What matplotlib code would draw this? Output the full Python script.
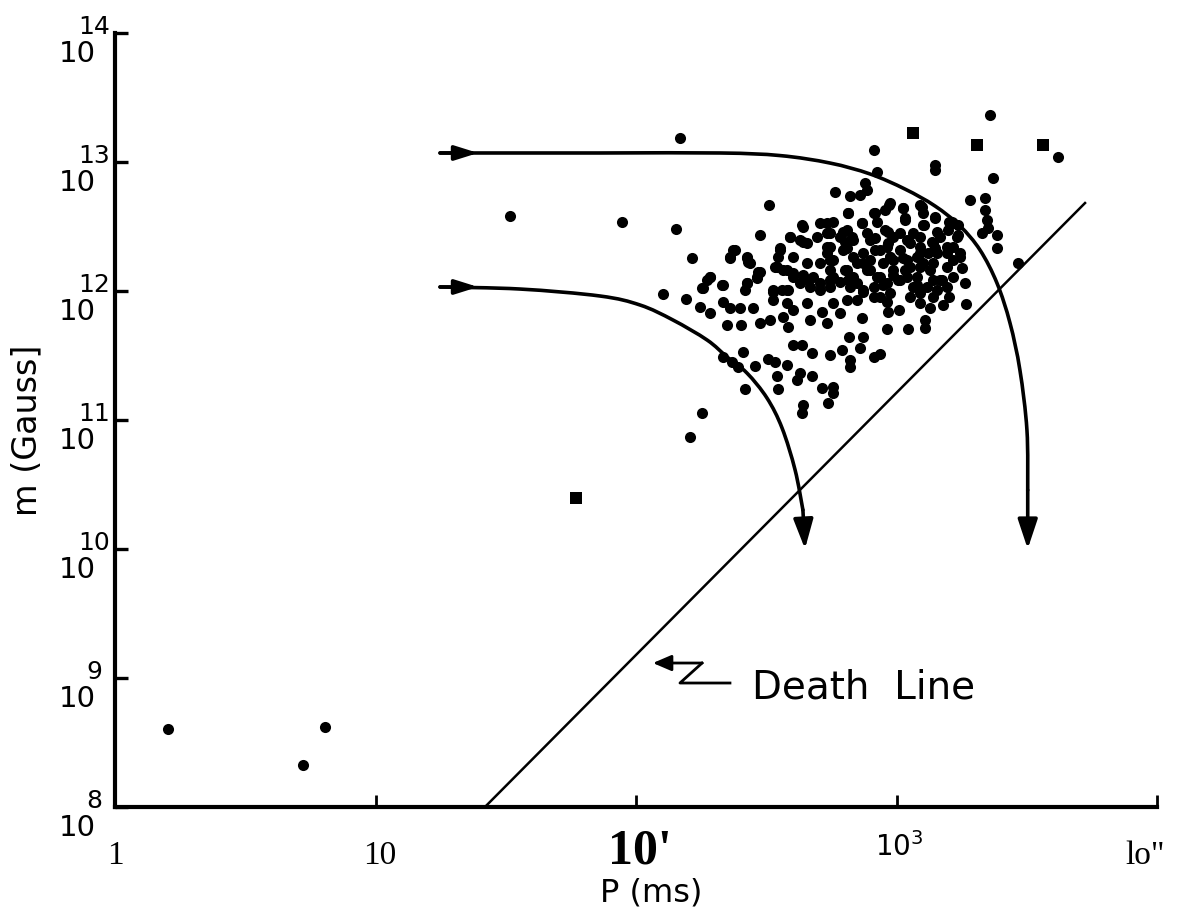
import numpy as np
import matplotlib
matplotlib.use('Agg')
import matplotlib.pyplot as plt
from matplotlib.path import Path
from matplotlib.patches import PathPatch

# all values are log10 P (ms) and log10 B (Gauss)

# scattered pulsars around the main cloud
outer_logP = [2.168, 2.911, 3.359, 3.147, 3.147, 3.371, 2.923, 2.879, 2.885, 2.859,
              2.821, 2.763, 2.511, 1.944, 2.153, 2.475, 2.213, 2.104, 2.191, 2.245,
              2.283, 2.347, 2.401, 2.251, 2.418, 2.409, 2.335, 2.367, 2.392, 2.456,
              2.507, 2.533, 2.578, 2.539, 2.546, 2.603, 2.635, 2.629, 2.674, 2.616,
              2.712, 2.757, 2.757, 2.738, 2.642, 2.635, 2.744, 2.674, 2.789, 2.818,
              2.872, 2.859, 2.821, 2.821, 2.911, 2.936, 2.964, 3.045, 3.109, 3.109,
              3.010, 3.266, 3.263, 3.250, 3.384, 3.467, 3.282, 3.339, 3.339, 3.346,
              3.327, 3.384, 3.352, 3.211, 3.237, 1.516, 3.620, 2.207]
outer_logB = [13.183, 13.093, 13.364, 12.976, 12.938, 12.873, 12.925, 12.834, 12.783, 12.744,
              12.736, 12.770, 12.666, 12.537, 12.477, 12.434, 12.258, 11.976, 11.935, 11.878,
              11.831, 11.736, 11.736, 11.056, 11.239, 11.529, 11.490, 11.451, 11.413, 11.418,
              11.469, 11.451, 11.425, 11.340, 11.237, 11.581, 11.581, 11.361, 11.340, 11.309,
              11.244, 11.257, 11.211, 11.128, 11.115, 11.051, 11.503, 11.521, 11.542, 11.645,
              11.645, 11.555, 11.464, 11.407, 11.490, 11.511, 11.702, 11.702, 11.774, 11.710,
              11.852, 11.896, 12.064, 12.175, 12.330, 12.214, 12.705, 12.718, 12.627, 12.550,
              12.446, 12.434, 12.485, 12.537, 12.511, 12.581, 13.039, 10.867]

# dense cloud, read row by row
core_logP = [2.972, 3.026, 3.096, 3.147, 3.199, 2.911, 2.923, 2.866, 2.815, 2.706,
             2.731, 2.635, 2.744, 2.808, 2.955, 2.987, 3.032, 3.103, 3.167, 3.064,
             2.591, 2.629, 2.655, 2.552, 2.744, 2.783, 2.834, 2.917, 2.968, 3.013,
             3.090, 3.141, 3.192, 3.243, 3.077, 2.379, 2.360, 2.424, 2.431, 2.731,
             2.795, 2.872, 2.936, 3.122, 2.546, 2.533, 2.578, 2.603, 2.642, 2.680,
             2.706, 2.757, 2.808, 2.847, 2.898, 2.949, 2.987, 3.032, 3.090, 3.141,
             3.192, 2.475, 2.463, 3.039, 2.283, 2.258, 2.271, 2.328, 2.424, 2.418,
             2.527, 2.559, 2.584, 2.629, 2.667, 2.706, 2.744, 2.783, 2.821, 2.872,
             2.911, 2.962, 3.013, 3.064, 3.115, 3.154, 3.199, 2.335, 2.360, 2.399,
             2.450, 2.527, 2.578, 2.603, 2.655, 2.712, 2.757, 2.808, 2.847, 2.911,
             2.962, 2.968, 3.090, 3.128, 3.179, 2.475, 2.514, 2.565, 2.584, 2.667,
             2.731, 2.783, 2.866, 2.693, 2.802, 2.885, 2.974, 3.051, 3.154, 3.218,
             2.987, 3.077, 3.167, 2.655, 2.603, 2.744, 2.834, 2.936, 2.885, 3.141,
             3.051, 3.090, 2.974, 3.218, 3.230]
core_logB = [12.666, 12.640, 12.653, 12.576, 12.537, 12.602, 12.537, 12.524, 12.602, 12.524,
             12.524, 12.511, 12.446, 12.472, 12.472, 12.421, 12.563, 12.511, 12.421, 12.446,
             12.421, 12.395, 12.369, 12.330, 12.343, 12.421, 12.395, 12.408, 12.369, 12.317,
             12.343, 12.369, 12.343, 12.291, 12.266, 12.317, 12.253, 12.266, 12.227, 12.291,
             12.317, 12.291, 12.317, 12.291, 12.266, 12.188, 12.162, 12.136, 12.123, 12.110,
             12.214, 12.240, 12.162, 12.214, 12.240, 12.214, 12.240, 12.162, 12.188, 12.214,
             12.188, 12.149, 12.110, 12.240, 12.110, 12.020, 12.085, 12.046, 12.059, 12.007,
             12.007, 12.007, 12.007, 12.059, 12.033, 12.007, 12.085, 12.072, 12.033, 12.007,
             12.033, 12.059, 12.085, 12.033, 12.033, 12.007, 11.955, 11.917, 11.865, 11.865,
             11.865, 11.930, 11.904, 11.852, 11.904, 11.839, 11.904, 11.930, 11.930, 11.955,
             11.917, 11.839, 11.904, 11.865, 11.891, 11.749, 11.774, 11.800, 11.723, 11.774,
             11.749, 11.826, 11.787, 12.421, 12.382, 12.446, 12.266, 12.369, 12.291, 12.110,
             12.123, 12.110, 12.085, 12.214, 12.266, 12.162, 12.110, 12.110, 12.162, 11.955,
             11.955, 12.007, 11.981, 12.343, 12.421]

# more of the cloud, read from close-ups of its right and left halves
dense_logP = [2.813, 2.867, 2.917, 2.955, 2.974, 2.755, 3.024, 3.032, 3.089, 3.101,
              3.147, 3.101, 3.216, 3.197, 3.235, 3.155, 3.135, 3.147, 2.966, 3.013,
              3.039, 3.089, 2.733, 2.794, 2.828, 2.898, 2.917, 2.963, 2.974, 3.024,
              3.051, 3.089, 3.101, 3.193, 3.216, 3.243, 2.733, 2.744, 2.809, 2.832,
              2.871, 2.898, 2.801, 2.813, 2.755, 2.744, 2.848, 2.871, 2.924, 2.947,
              2.986, 3.005, 3.039, 3.078, 3.128, 3.139, 3.174, 3.193, 3.089, 2.936,
              2.641, 2.591, 2.640, 2.552, 2.540, 2.563, 2.602, 2.656, 2.706, 2.372,
              2.360, 2.425, 2.437, 2.468, 2.464, 2.425, 2.283, 2.252, 2.333, 2.525,
              2.579]
dense_logB = [12.604, 12.527, 12.604, 12.628, 12.682, 12.535, 12.643, 12.550, 12.667, 12.604,
              12.566, 12.511, 12.527, 12.473, 12.434, 12.457, 12.380, 12.333, 12.457, 12.450,
              12.395, 12.418, 12.450, 12.457, 12.418, 12.395, 12.318, 12.341, 12.263, 12.256,
              12.186, 12.294, 12.217, 12.294, 12.240, 12.263, 12.341, 12.240, 12.333, 12.263,
              12.217, 12.163, 12.163, 12.085, 12.108, 12.031, 12.062, 11.992, 12.108, 12.046,
              12.163, 12.085, 12.108, 12.046, 12.163, 12.085, 12.085, 12.031, 11.984, 11.953,
              12.496, 12.418, 12.380, 12.318, 12.186, 12.163, 12.108, 12.085, 12.062, 12.318,
              12.263, 12.256, 12.217, 12.147, 12.101, 12.062, 12.108, 12.023, 12.046, 11.992,
              12.008]

# short period objects, bottom left
msp_logP = [0.203, 0.721, 0.805]
msp_logB = [8.603, 8.324, 8.619]

# square symbols
sq_logP = [3.062, 3.308, 3.563, 1.769]
sq_logB = [13.225, 13.131, 13.131, 10.394]

# evolutionary tracks
track_hi_logP = [1.247, 1.861, 2.322, 2.552, 2.744, 2.898, 3.032, 3.147, 3.243,
                 3.320, 3.385, 3.435, 3.473, 3.500, 3.503, 3.503]
track_hi_logB = [13.070, 13.070, 13.070, 13.050, 12.992, 12.907, 12.790, 12.659, 12.504,
                 12.317, 12.061, 11.751, 11.387, 10.922, 10.456, 10.000]
track_lo_logP = [1.247, 1.554, 1.861, 2.015, 2.141, 2.272, 2.349, 2.425, 2.502,
                 2.560, 2.610, 2.640, 2.648]
track_lo_logB = [12.031, 12.015, 11.961, 11.891, 11.775, 11.620, 11.488, 11.364, 11.170,
                 10.937, 10.612, 10.302, 10.000]

death_logP = [1.42, 3.723]
death_logB = [8.0, 12.682]

ytick_exp = [8, 9, 10, 11, 12, 13, 14]
xtick_vals = [1, 10, 100, 1000, 10000]
xtick_text = ['1', '10', "10'", '$10^3$', 'lo"']


def p(v):
    return 10 ** np.asarray(v)


def smooth_path(lx, ly):
    # cubic pieces through the read points (Catmull-Rom in log space)
    x = np.asarray(lx, float)
    y = np.asarray(ly, float)
    n = len(x)
    verts = [(x[0], y[0])]
    codes = [Path.MOVETO]
    for i in range(n - 1):
        a = max(i - 1, 0)
        b = min(i + 2, n - 1)
        c1 = (x[i] + (x[i + 1] - x[a]) / 6, y[i] + (y[i + 1] - y[a]) / 6)
        c2 = (x[i + 1] - (x[b] - x[i]) / 6, y[i + 1] - (y[b] - y[i]) / 6)
        verts += [c1, c2, (x[i + 1], y[i + 1])]
        codes += [Path.CURVE4] * 3
    return Path(10 ** np.array(verts), codes)


fig = plt.figure(figsize=(11.79, 9.13), dpi=100)
ax = fig.add_axes([0.0977, 0.1163, 0.8838, 0.8475])
ax.set_xscale('log')
ax.set_yscale('log')
ax.set_xlim(1, 1e4)
ax.set_ylim(1e8, 1e14)

for s in ['top', 'right']:
    ax.spines[s].set_visible(False)
ax.spines['left'].set_linewidth(3)
ax.spines['bottom'].set_linewidth(3)

ax.set_yticks(p(ytick_exp))
ax.set_yticklabels([''] * len(ytick_exp))
ax.set_xticks(xtick_vals)
ax.set_xticklabels([''] * len(xtick_vals))
ax.minorticks_off()
ax.tick_params(axis='y', direction='in', length=9, width=2.4)
ax.tick_params(axis='x', direction='in', length=9, width=2)

# y labels: "10" with exponent
for e in ytick_exp:
    ax.annotate('10', xy=(0, 10.0 ** e), xycoords=('axes fraction', 'data'),
                xytext=(-27, -15), textcoords='offset points',
                ha='center', va='center', fontsize=21)
    ax.annotate(str(e), xy=(0, 10.0 ** e), xycoords=('axes fraction', 'data'),
                xytext=(-15, 4), textcoords='offset points',
                ha='center', va='center', fontsize=18)

xfam = ['Liberation Serif', 'Liberation Serif', 'Liberation Serif', 'DejaVu Sans', 'Liberation Serif']
xsize = [24, 24, 36, 20, 24]
xweight = ['normal', 'normal', 'bold', 'normal', 'normal']
xdx = [0, 3, 3, 2, -9]
xdy = [-35, -35, -32, -29, -35]
for v, t, f, s, w, dx, dy in zip(xtick_vals, xtick_text, xfam, xsize, xweight, xdx, xdy):
    ax.annotate(t, xy=(v, 0), xycoords=('data', 'axes fraction'),
                xytext=(dx, dy), textcoords='offset points',
                ha='center', va='center', fontsize=s, family=f, weight=w)

# data points
dot = dict(ms=8, mew=0, color='k', clip_on=False, ls='none')
ax.plot(p(core_logP), p(core_logB), 'o', **dot)
ax.plot(p(dense_logP), p(dense_logB), 'o', **dot)
ax.plot(p(outer_logP), p(outer_logB), 'o', **dot)
ax.plot(p(msp_logP), p(msp_logB), 'o', **dot)
ax.plot(p(sq_logP), p(sq_logB), 's', ms=8, mew=0, color='k', clip_on=False, ls='none')

# death line
ax.plot(p(death_logP), p(death_logB), color='k', lw=1.8)

end_arrow = dict(arrowstyle='-|>,head_length=0.9,head_width=0.3', color='k',
                 lw=2.6, shrinkA=0, shrinkB=0, mutation_scale=20)
mid_arrow = dict(arrowstyle='-|>,head_length=0.7,head_width=0.22', color='k',
                 lw=2.6, shrinkA=0, shrinkB=0, mutation_scale=20)
for tp, tb in [(track_hi_logP, track_hi_logB), (track_lo_logP, track_lo_logB)]:
    ax.add_patch(PathPatch(smooth_path(tp[:-1], tb[:-1]), fill=False, ec='k', lw=2.6,
                           capstyle='round'))
    ax.annotate('', xy=(10 ** tp[-1], 10 ** tb[-1]), xytext=(10 ** tp[-2], 10 ** tb[-2]),
                arrowprops=end_arrow)
    ax.annotate('', xy=(10 ** (tp[0] + 0.146), 10 ** tb[0]), xytext=(10 ** tp[0], 10 ** tb[0]),
                arrowprops=mid_arrow)

# "Death Line" label with its zig-zag pointer
ax.plot(p([2.360, 2.168, 2.253]), p([8.960, 8.960, 9.115]), color='k', lw=2)
ax.annotate('', xy=(10 ** 2.064, 10 ** 9.115), xytext=(10 ** 2.253, 10 ** 9.115),
            arrowprops=dict(arrowstyle='-|>,head_length=0.7,head_width=0.3', color='k',
                            lw=2, shrinkA=0, shrinkB=0, mutation_scale=16))
ax.text(10 ** 2.444, 10 ** 8.929, 'Death  Line', fontsize=28, ha='left', va='center')

fig.text(651 / 1179, 1 - 893 / 913, 'P (ms)', fontsize=23, ha='center', va='center')
fig.text(27 / 1179, 1 - 430 / 913, 'm (Gauss]', fontsize=24, ha='center', va='center',
         rotation=90)

fig.savefig('out.png', dpi=100)
